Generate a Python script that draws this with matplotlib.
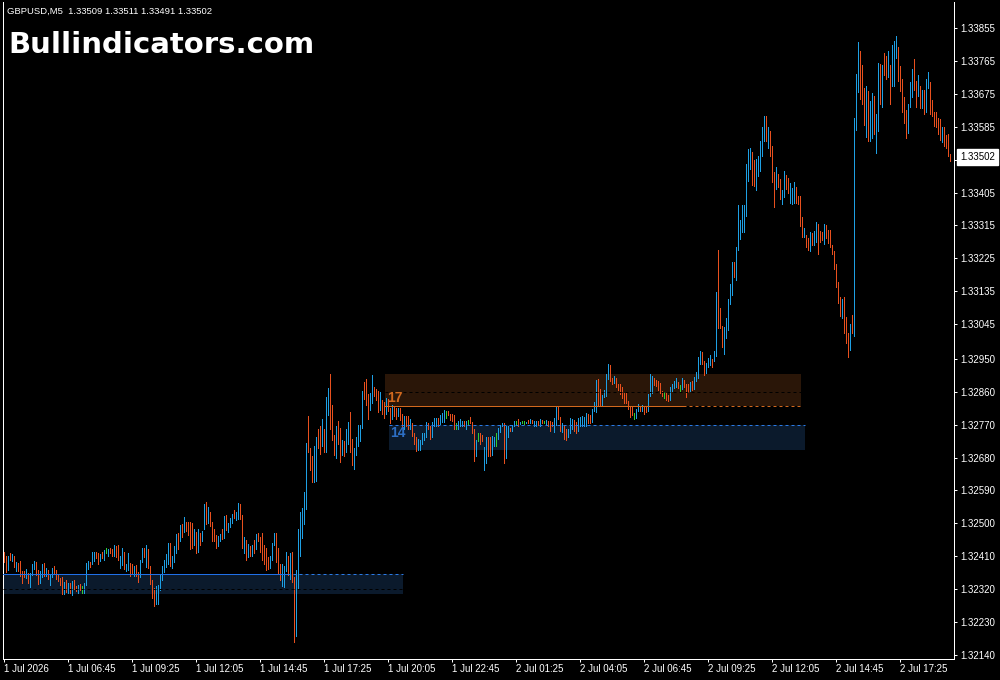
import numpy as np
import matplotlib
matplotlib.use("Agg")
import matplotlib.pyplot as plt
from matplotlib.collections import LineCollection
from matplotlib.patches import Rectangle

# ---------------- data ----------------
symbol_line = "GBPUSD,M5  1.33509 1.33511 1.33491 1.33502"
watermark = "Bullindicators.com"
last_price = 1.33502

highs = [
    1.32423, 1.32412, 1.32412, 1.32418, 1.32415, 1.32412, 1.32394, 1.32391, 1.32396, 1.32369,
    1.32369, 1.32375, 1.32364, 1.32364, 1.32388, 1.32396, 1.32394, 1.32372, 1.32369, 1.32388,
    1.32391, 1.32377, 1.32372, 1.32361, 1.32377, 1.32383, 1.32372, 1.32361, 1.32350, 1.32353,
    1.32339, 1.32345, 1.32337, 1.32337, 1.32342, 1.32345, 1.32328, 1.32331, 1.32334, 1.32328,
    1.32337, 1.32391, 1.32396, 1.32394, 1.32421, 1.32423, 1.32421, 1.32418, 1.32415, 1.32423,
    1.32426, 1.32432, 1.32429, 1.32434, 1.32429, 1.32440, 1.32437, 1.32440, 1.32412, 1.32434,
    1.32421, 1.32388, 1.32418, 1.32391, 1.32388, 1.32383, 1.32386, 1.32366, 1.32401, 1.32434,
    1.32434, 1.32440, 1.32429, 1.32383, 1.32345, 1.32323, 1.32328, 1.32331, 1.32361, 1.32383,
    1.32401, 1.32415, 1.32445, 1.32445, 1.32412, 1.32437, 1.32470, 1.32473, 1.32495, 1.32498,
    1.32517, 1.32503, 1.32503, 1.32503, 1.32500, 1.32486, 1.32476, 1.32486, 1.32473, 1.32478,
    1.32552, 1.32558, 1.32544, 1.32530, 1.32503, 1.32484, 1.32467, 1.32465, 1.32470, 1.32484,
    1.32519, 1.32522, 1.32500, 1.32514, 1.32525, 1.32536, 1.32530, 1.32555, 1.32552, 1.32522,
    1.32462, 1.32454, 1.32443, 1.32437, 1.32440, 1.32454, 1.32470, 1.32473, 1.32462, 1.32473,
    1.32440, 1.32434, 1.32407, 1.32412, 1.32445, 1.32473, 1.32473, 1.32432, 1.32388, 1.32388,
    1.32383, 1.32421, 1.32412, 1.32418, 1.32421, 1.32353, 1.32372, 1.32486, 1.32530, 1.32541,
    1.32585, 1.32721, 1.32795, 1.32707, 1.32683, 1.32713, 1.32737, 1.32759, 1.32765, 1.32786,
    1.32757, 1.32846, 1.32871, 1.32909, 1.32825, 1.32743, 1.32767, 1.32781, 1.32762, 1.32729,
    1.32726, 1.32757, 1.32778, 1.32805, 1.32732, 1.32707, 1.32735, 1.32770, 1.32770, 1.32863,
    1.32887, 1.32896, 1.32855, 1.32857, 1.32906, 1.32874, 1.32868, 1.32863, 1.32860, 1.32838,
    1.32833, 1.32844, 1.32841, 1.32816, 1.32825, 1.32819, 1.32816, 1.32816, 1.32816, 1.32800,
    1.32795, 1.32795, 1.32795, 1.32786, 1.32775, 1.32748, 1.32737, 1.32732, 1.32729, 1.32746,
    1.32748, 1.32778, 1.32775, 1.32765, 1.32778, 1.32789, 1.32789, 1.32789, 1.32797, 1.32803,
    1.32811, 1.32808, 1.32808, 1.32800, 1.32800, 1.32797, 1.32775, 1.32781, 1.32786, 1.32781,
    1.32781, 1.32781, 1.32784, 1.32792, 1.32778, 1.32759, 1.32729, 1.32748, 1.32746, 1.32743,
    1.32710, 1.32735, 1.32737, 1.32735, 1.32740, 1.32735, 1.32746, 1.32762, 1.32770, 1.32775,
    1.32775, 1.32765, 1.32767, 1.32762, 1.32770, 1.32781, 1.32781, 1.32786, 1.32778, 1.32781,
    1.32781, 1.32778, 1.32784, 1.32786, 1.32784, 1.32781, 1.32781, 1.32781, 1.32786, 1.32784,
    1.32781, 1.32784, 1.32781, 1.32781, 1.32778, 1.32789, 1.32822, 1.32819, 1.32792, 1.32775,
    1.32767, 1.32757, 1.32757, 1.32789, 1.32786, 1.32784, 1.32778, 1.32789, 1.32792, 1.32795,
    1.32792, 1.32803, 1.32800, 1.32797, 1.32814, 1.32833, 1.32893, 1.32896, 1.32868, 1.32852,
    1.32866, 1.32909, 1.32936, 1.32934, 1.32898, 1.32904, 1.32898, 1.32882, 1.32882, 1.32874,
    1.32857, 1.32857, 1.32836, 1.32819, 1.32819, 1.32803, 1.32814, 1.32827, 1.32822, 1.32825,
    1.32819, 1.32822, 1.32855, 1.32909, 1.32904, 1.32898, 1.32893, 1.32890, 1.32885, 1.32863,
    1.32860, 1.32857, 1.32852, 1.32874, 1.32882, 1.32890, 1.32898, 1.32887, 1.32879, 1.32898,
    1.32893, 1.32882, 1.32882, 1.32887, 1.32890, 1.32901, 1.32915, 1.32955, 1.32972, 1.32969,
    1.32945, 1.32939, 1.32953, 1.32961, 1.32950, 1.32972, 1.33133, 1.33247, 1.33089, 1.33040,
    1.33037, 1.33062, 1.33114, 1.33155, 1.33215, 1.33215, 1.33256, 1.33370, 1.33329, 1.33370,
    1.33370, 1.33482, 1.33523, 1.33528, 1.33517, 1.33493, 1.33498, 1.33504, 1.33545, 1.33585,
    1.33615, 1.33615, 1.33583, 1.33572, 1.33531, 1.33460, 1.33474, 1.33457, 1.33441, 1.33411,
    1.33463, 1.33452, 1.33444, 1.33430, 1.33416, 1.33433, 1.33419, 1.33395, 1.33395, 1.33337,
    1.33307, 1.33288, 1.33280, 1.33296, 1.33294, 1.33299, 1.33324, 1.33318, 1.33299, 1.33296,
    1.33318, 1.33315, 1.33302, 1.33302, 1.33261, 1.33245, 1.33209, 1.33160, 1.33119, 1.33114,
    1.33119, 1.33064, 1.33021, 1.33045, 1.33070, 1.33610, 1.33730, 1.33817, 1.33793, 1.33755,
    1.33692, 1.33695, 1.33684, 1.33654, 1.33676, 1.33670, 1.33621, 1.33760, 1.33757, 1.33755,
    1.33787, 1.33779, 1.33793, 1.33755, 1.33809, 1.33820, 1.33834, 1.33804, 1.33752, 1.33716,
    1.33665, 1.33632, 1.33648, 1.33706, 1.33744, 1.33771, 1.33711, 1.33727, 1.33697, 1.33686,
    1.33686, 1.33716, 1.33736, 1.33706, 1.33657, 1.33624, 1.33624, 1.33610, 1.33605, 1.33583,
    1.33585, 1.33561, 1.33566, 1.33511,
]

lows = [
    1.32394, 1.32367, 1.32372, 1.32399, 1.32396, 1.32380, 1.32369, 1.32369, 1.32356, 1.32337,
    1.32353, 1.32350, 1.32337, 1.32326, 1.32358, 1.32375, 1.32358, 1.32334, 1.32337, 1.32353,
    1.32356, 1.32356, 1.32347, 1.32331, 1.32353, 1.32364, 1.32347, 1.32342, 1.32331, 1.32306,
    1.32306, 1.32312, 1.32309, 1.32309, 1.32304, 1.32320, 1.32315, 1.32309, 1.32317, 1.32309,
    1.32309, 1.32331, 1.32375, 1.32380, 1.32388, 1.32396, 1.32404, 1.32388, 1.32396, 1.32404,
    1.32401, 1.32418, 1.32412, 1.32418, 1.32412, 1.32412, 1.32407, 1.32401, 1.32377, 1.32386,
    1.32375, 1.32369, 1.32372, 1.32356, 1.32364, 1.32356, 1.32356, 1.32339, 1.32353, 1.32394,
    1.32407, 1.32380, 1.32377, 1.32334, 1.32296, 1.32274, 1.32279, 1.32279, 1.32317, 1.32345,
    1.32366, 1.32380, 1.32388, 1.32383, 1.32377, 1.32394, 1.32418, 1.32429, 1.32451, 1.32462,
    1.32476, 1.32478, 1.32467, 1.32429, 1.32434, 1.32440, 1.32418, 1.32421, 1.32440, 1.32451,
    1.32486, 1.32498, 1.32500, 1.32492, 1.32451, 1.32451, 1.32434, 1.32437, 1.32451, 1.32456,
    1.32459, 1.32481, 1.32476, 1.32489, 1.32500, 1.32514, 1.32508, 1.32511, 1.32511, 1.32434,
    1.32418, 1.32401, 1.32407, 1.32410, 1.32412, 1.32418, 1.32429, 1.32451, 1.32423, 1.32399,
    1.32388, 1.32372, 1.32375, 1.32377, 1.32399, 1.32440, 1.32394, 1.32364, 1.32345, 1.32328,
    1.32326, 1.32369, 1.32358, 1.32347, 1.32339, 1.32176, 1.32192, 1.32323, 1.32410, 1.32459,
    1.32498, 1.32538, 1.32694, 1.32647, 1.32612, 1.32612, 1.32617, 1.32705, 1.32691, 1.32713,
    1.32696, 1.32696, 1.32797, 1.32757, 1.32729, 1.32688, 1.32680, 1.32718, 1.32667, 1.32688,
    1.32685, 1.32694, 1.32718, 1.32694, 1.32661, 1.32650, 1.32688, 1.32713, 1.32724, 1.32762,
    1.32841, 1.32825, 1.32786, 1.32811, 1.32830, 1.32849, 1.32838, 1.32805, 1.32811, 1.32800,
    1.32789, 1.32800, 1.32808, 1.32775, 1.32786, 1.32795, 1.32786, 1.32795, 1.32784, 1.32765,
    1.32759, 1.32767, 1.32757, 1.32757, 1.32740, 1.32718, 1.32699, 1.32702, 1.32702, 1.32718,
    1.32729, 1.32737, 1.32757, 1.32732, 1.32737, 1.32765, 1.32765, 1.32765, 1.32773, 1.32778,
    1.32778, 1.32789, 1.32797, 1.32784, 1.32781, 1.32757, 1.32759, 1.32759, 1.32765, 1.32767,
    1.32765, 1.32759, 1.32773, 1.32775, 1.32748, 1.32672, 1.32685, 1.32726, 1.32718, 1.32724,
    1.32645, 1.32664, 1.32685, 1.32685, 1.32688, 1.32713, 1.32713, 1.32732, 1.32751, 1.32765,
    1.32666, 1.32680, 1.32735, 1.32754, 1.32754, 1.32765, 1.32773, 1.32767, 1.32773, 1.32775,
    1.32773, 1.32775, 1.32775, 1.32775, 1.32775, 1.32767, 1.32767, 1.32770, 1.32767, 1.32775,
    1.32775, 1.32770, 1.32767, 1.32754, 1.32765, 1.32751, 1.32770, 1.32786, 1.32754, 1.32751,
    1.32732, 1.32729, 1.32737, 1.32746, 1.32759, 1.32754, 1.32748, 1.32754, 1.32765, 1.32765,
    1.32765, 1.32767, 1.32775, 1.32775, 1.32778, 1.32808, 1.32805, 1.32825, 1.32822, 1.32825,
    1.32846, 1.32849, 1.32896, 1.32890, 1.32882, 1.32885, 1.32874, 1.32866, 1.32855, 1.32844,
    1.32830, 1.32830, 1.32814, 1.32792, 1.32797, 1.32786, 1.32789, 1.32808, 1.32808, 1.32808,
    1.32800, 1.32805, 1.32808, 1.32849, 1.32857, 1.32879, 1.32876, 1.32866, 1.32857, 1.32849,
    1.32844, 1.32838, 1.32836, 1.32838, 1.32863, 1.32871, 1.32874, 1.32871, 1.32863, 1.32868,
    1.32874, 1.32846, 1.32860, 1.32863, 1.32866, 1.32868, 1.32890, 1.32898, 1.32936, 1.32936,
    1.32906, 1.32912, 1.32928, 1.32934, 1.32928, 1.32945, 1.32958, 1.33034, 1.33034, 1.32983,
    1.32964, 1.33007, 1.33029, 1.33100, 1.33125, 1.33174, 1.33166, 1.33247, 1.33277, 1.33296,
    1.33296, 1.33340, 1.33436, 1.33468, 1.33425, 1.33422, 1.33411, 1.33449, 1.33465, 1.33504,
    1.33545, 1.33545, 1.33526, 1.33504, 1.33433, 1.33365, 1.33414, 1.33419, 1.33386, 1.33373,
    1.33392, 1.33414, 1.33403, 1.33375, 1.33373, 1.33375, 1.33375, 1.33373, 1.33313, 1.33283,
    1.33283, 1.33256, 1.33247, 1.33245, 1.33261, 1.33261, 1.33269, 1.33236, 1.33269, 1.33275,
    1.33264, 1.33280, 1.33266, 1.33256, 1.33236, 1.33195, 1.33146, 1.33103, 1.33067, 1.33062,
    1.33021, 1.32994, 1.32955, 1.32974, 1.33021, 1.33013, 1.33575, 1.33681, 1.33662, 1.33648,
    1.33591, 1.33558, 1.33545, 1.33547, 1.33553, 1.33564, 1.33512, 1.33572, 1.33648, 1.33640,
    1.33727, 1.33716, 1.33722, 1.33646, 1.33697, 1.33697, 1.33774, 1.33711, 1.33684, 1.33624,
    1.33594, 1.33553, 1.33569, 1.33640, 1.33667, 1.33686, 1.33640, 1.33670, 1.33635, 1.33637,
    1.33621, 1.33626, 1.33692, 1.33621, 1.33613, 1.33588, 1.33583, 1.33564, 1.33550, 1.33542,
    1.33531, 1.33528, 1.33504, 1.33491,
]

# u = bullish bar, d = bearish bar, n = doji (open == close)
bar_dir = (
    "ddudududdd" "duduuudduu" "duduuddddd" "udududdudn" "uuuduuddud"
    "unuddudduu" "duuddudduu" "dudddduuuu" "uuuduuudud" "uddddududu"
    "ududddduud" "uduuuduudd" "ududududdd" "ddduuudddu" "uududduuuu"
    "uuddduuddu" "duuddduddu" "duudduuuuu" "ddduudddud" "dudduddudd"
    "udduddduuu" "uudduuuduu" "unddddnuuu" "dundddundd" "uudduunuuu"
    "duuduundun" "nududuudud" "nuddduuddu" "dduuudduuu" "uudduuuddu"
    "uuuddudddd" "dddddnuudu" "dduuuddddd" "ndduuuudnu" "ddduduuuud"
    "duuuduuddd" "uuuuuduuuu" "uuuudduuuu" "ududdduddu" "udduuudddd"
    "udduduuddd" "uddddddddu" "ddduduuudd" "duduuduudu" "dduduuuddd"
    "dduuuddudu" "duuddddddu" "dddd"
)

time_labels = [
    "1 Jul 2026", "1 Jul 06:45", "1 Jul 09:25", "1 Jul 12:05", "1 Jul 14:45",
    "1 Jul 17:25", "1 Jul 20:05", "1 Jul 22:45", "2 Jul 01:25", "2 Jul 04:05",
    "2 Jul 06:45", "2 Jul 09:25", "2 Jul 12:05", "2 Jul 14:45", "2 Jul 17:25",
]
time_label_bars = [0, 32, 64, 96, 128, 160, 192, 224, 256, 288, 320, 352, 384, 416, 448]

# price scale labels (the 1.33495 label sits under the current-price box)
price_ticks = [
    1.32140, 1.32230, 1.32320, 1.32410, 1.32500, 1.32590, 1.32680, 1.32770,
    1.32860, 1.32950, 1.33045, 1.33135, 1.33225, 1.33315, 1.33405, 1.33495,
    1.33585, 1.33675, 1.33765, 1.33855,
]
hidden_tick = 1.33495

# zones: bar-index span and price levels
supply_start, supply_end, supply_touch = 190.75, 398.75, 339.75
supply_top, supply_mid, supply_bottom = 1.32909, 1.32860, 1.32822
supply_label = "17"

demand1_start, demand1_end = 192.75, 400.75
demand1_top, demand1_bottom = 1.32770, 1.32702
demand1_label = "14"

demand0_start, demand0_end, demand0_touch = -0.25, 199.75, 141.75
demand0_top, demand0_mid, demand0_bottom = 1.32361, 1.32320, 1.32306

# ---------------- styling ----------------
BG = "black"
UP = "#1E9FE3"
DOWN = "#E8501E"
DOJI = "#32CD32"
plt.rcParams["font.family"] = ["Liberation Sans", "DejaVu Sans"]

W, H = 1000, 680
fig = plt.figure(figsize=(W / 100, H / 100), dpi=100, facecolor=BG)
left_px, right_px, top_px, bottom_px = 3, 954, 2, 659
ax = fig.add_axes([left_px / W, 1 - bottom_px / H,
                   (right_px - left_px) / W, (bottom_px - top_px) / H])
ax.set_facecolor(BG)

n = min(len(highs), len(lows), len(bar_dir))
x = np.arange(n)
cmap = {"u": UP, "d": DOWN, "n": DOJI}
colors = [cmap[c] for c in bar_dir[:n]]
segs = [[(x[i], lows[i]), (x[i], highs[i])] for i in range(n)]
lc = LineCollection(segs, colors=colors, linewidths=0.72, antialiaseds=False, zorder=3)
ax.add_collection(lc)

ax.set_xlim(-0.25, 475.25)
ax.set_ylim(1.3212906, 1.3392610)

# zones
ax.add_patch(Rectangle((supply_start, supply_bottom), supply_end - supply_start,
                       supply_top - supply_bottom, facecolor="#2A1608", edgecolor="none", zorder=1))
ax.add_patch(Rectangle((demand1_start, demand1_bottom), demand1_end - demand1_start,
                       demand1_top - demand1_bottom, facecolor="#0B1A2C", edgecolor="none", zorder=1))
ax.add_patch(Rectangle((demand0_start, demand0_bottom), demand0_end - demand0_start,
                       demand0_top - demand0_bottom, facecolor="#0B1A2C", edgecolor="none", zorder=1))

lw = 0.72
ax.plot([supply_start, supply_end], [supply_mid] * 2, color="black", lw=lw, ls=(0, (3, 3)), zorder=4)
ax.plot([supply_start, supply_touch], [supply_bottom] * 2, color="#D2691E", lw=lw, zorder=4)
ax.plot([supply_touch, supply_end], [supply_bottom] * 2, color="#D2691E", lw=lw, ls=(0, (3, 3)), zorder=4)
ax.plot([demand1_start, demand1_end], [demand1_top] * 2, color="#2A7AE6", lw=lw, ls=(0, (3, 3)), zorder=4)
ax.plot([demand0_start, demand0_touch], [demand0_top] * 2, color="#2070E8", lw=lw, zorder=4)
ax.plot([demand0_touch, demand0_end], [demand0_top] * 2, color="#2A7AE6", lw=lw, ls=(0, (3, 3)), zorder=4)
ax.plot([demand0_start, demand0_end], [demand0_mid] * 2, color="black", lw=lw, ls=(0, (3, 3)), zorder=4)

ax.annotate(supply_label, xy=(supply_start, supply_bottom), xytext=(2, 8),
            textcoords="offset pixels", ha="left", va="center", color="#D2691E",
            fontsize=10, fontweight="bold", zorder=5)
ax.annotate(demand1_label, xy=(demand1_start, demand1_top), xytext=(1, -8),
            textcoords="offset pixels", ha="left", va="center", color="#2D6FC4",
            fontsize=10, fontweight="bold", zorder=5)

# axes / spines
for s in ["left", "right", "bottom"]:
    ax.spines[s].set_color("white")
    ax.spines[s].set_linewidth(0.72)
ax.spines["top"].set_visible(False)

ax.yaxis.tick_right()
ax.set_yticks(price_ticks)
ax.set_yticklabels(["" if abs(v - hidden_tick) < 1e-9 else f"{v:.5f}" for v in price_ticks])
ax.tick_params(axis="y", colors="white", labelcolor="white", length=2.2, width=0.72,
               pad=2.2, labelsize=7)
ax.set_xticks(time_label_bars)
ax.set_xticklabels(time_labels)
for lbl in ax.get_xticklabels():
    lbl.set_horizontalalignment("left")
ax.tick_params(axis="x", colors="white", labelcolor="white", length=2.2, width=0.72,
               pad=1.5, labelsize=7)

# current price marker
ax.annotate(f"{last_price:.5f}", xy=(1.0, last_price), xycoords=("axes fraction", "data"),
            xytext=(6, 0), textcoords="offset pixels", ha="left", va="center",
            color="black", fontsize=7, annotation_clip=False, zorder=10,
            bbox=dict(boxstyle="square,pad=0.3", facecolor="white", edgecolor="white"))

# header texts
fig.text(7 / W, 1 - 14 / H, symbol_line, color="white", fontsize=6.8, ha="left", va="baseline")
fig.text(8 / W, 1 - 53 / H, watermark, color="white", fontsize=21, fontweight="bold",
         family="DejaVu Sans", ha="left", va="baseline")

fig.savefig("out.png", dpi=100, facecolor=BG)
